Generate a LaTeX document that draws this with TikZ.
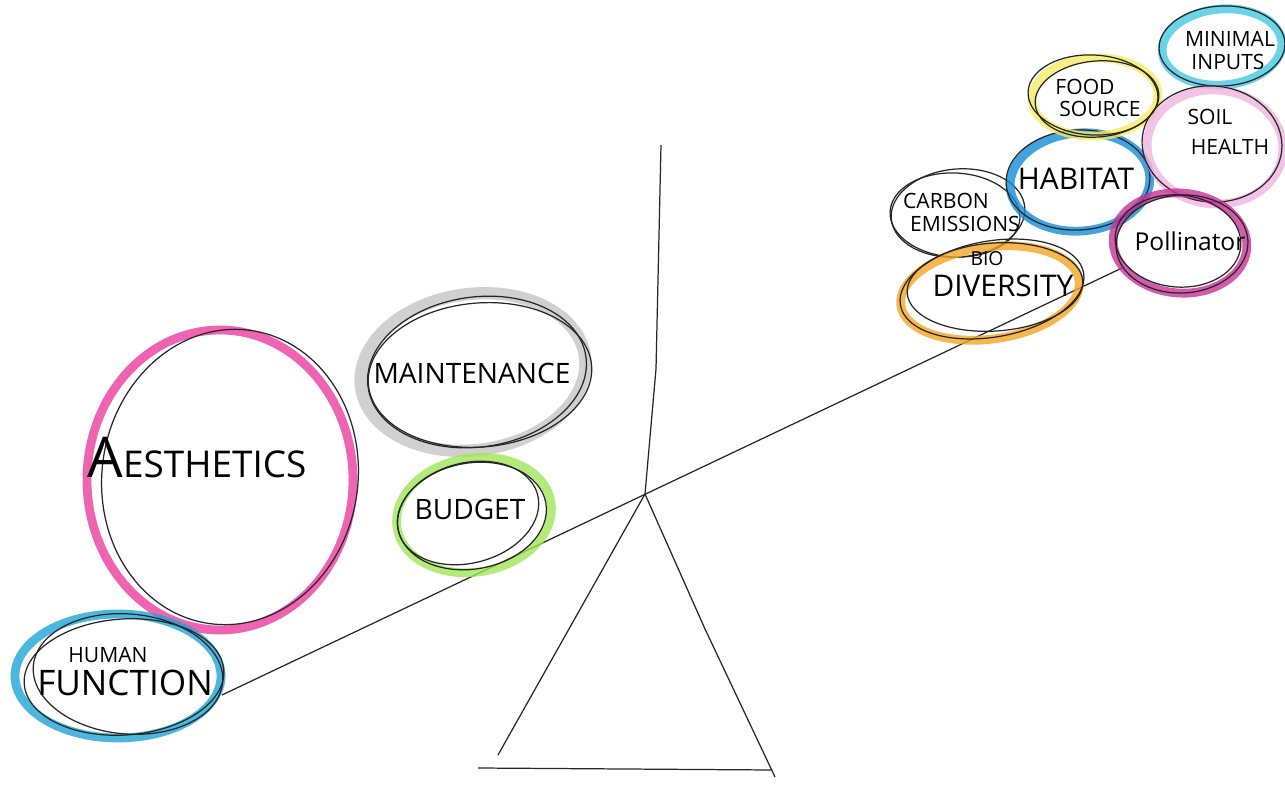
\documentclass[tikz,border=0pt]{standalone}
\usepackage{fontspec}
\setmainfont{Open Sans}
\usepackage{tikz}
\usetikzlibrary{positioning}
\definecolor{aesPink}{RGB}{235,60,160}
\definecolor{humBlue}{RGB}{30,165,215}
\definecolor{budGreen}{RGB}{160,230,90}
\definecolor{bioOrange}{RGB}{245,165,35}
\definecolor{habBlue}{RGB}{20,140,215}
\definecolor{foodYellow}{RGB}{245,235,100}
\definecolor{minCyan}{RGB}{70,200,225}
\definecolor{soilPink}{RGB}{240,180,225}
\definecolor{polMagenta}{RGB}{200,50,150}

\begin{document}
\begin{tikzpicture}[x=0.02cm,y=0.02cm,
  ink/.style={line width=0.7pt,black!85},
  pencil/.style={line width=5pt,opacity=0.8},
  lbl/.style={inner sep=0pt,font=\fontsize{16}{18}\selectfont},
  small/.style={inner sep=0pt,font=\fontsize{12}{14}\selectfont}]
       \useasboundingbox (0,0) rectangle (1285,789);
       \fill[white] (0,0) rectangle (1285,789);
       % scale
       \coordinate (pivot) at (645,295);
       \coordinate (top) at (661,644);
       \coordinate (beamL) at (222,94);
       \coordinate (beamR) at (1122,521);
       \coordinate (footL) at (498,34);
       \coordinate (footR) at (775,12);
       \coordinate (groundL) at (478,21);
       \coordinate (groundR) at (772,19);
       \draw[ink] (top) -- (656,420) -- (pivot);
       \draw[ink] (beamL) -- (beamR);
       \draw[ink] (pivot) -- (footL);
       \draw[ink] (pivot) -- (705,160) -- (footR);
       \draw[ink] (groundL) -- (groundR);
       % left side
       \draw[pencil,aesPink] (220,309) ellipse [x radius=133,y radius=150];
       \draw[ink,shift={(230,312)},rotate=-8] (0,0) ellipse [x radius=128,y radius=148];
       \node[lbl,font=\fontsize{21}{24}\selectfont] (aes) at (197,331) {{\fontsize{32}{32}\selectfont A}ESTHETICS};
       \draw[pencil,humBlue] (118,113) ellipse [x radius=103,y radius=62];
       \draw[ink,shift={(128,115)},rotate=-5] (0,0) ellipse [x radius=95,y radius=60];
       \draw[ink,shift={(124,112)},rotate=4] (0,0) ellipse [x radius=100,y radius=58];
       \node[small] (hum) at (108,134) {HUMAN};
       \node[lbl,font=\fontsize{20}{22}\selectfont] (fun) at (125,106) {FUNCTION};
       \draw[pencil,gray!60,line width=7pt,opacity=0.6,shift={(473,417)},rotate=8] (0,0) ellipse [x radius=113,y radius=78];
       \draw[ink,shift={(477,417)},rotate=8] (0,0) ellipse [x radius=110,y radius=75];
       \draw[ink,shift={(480,414)},rotate=5] (0,0) ellipse [x radius=112,y radius=72];
       \node[lbl] (mai) at (472,416) {MAINTENANCE};
       \draw[pencil,budGreen,shift={(474,274)},rotate=10] (0,0) ellipse [x radius=78,y radius=57];
       \draw[ink,shift={(468,276)},rotate=15] (0,0) ellipse [x radius=72,y radius=50];
       \draw[ink,shift={(472,273)},rotate=10] (0,0) ellipse [x radius=75,y radius=53];
       \node[lbl] (bud) at (470,280) {BUDGET};
       % right side
       \draw[ink,shift={(958,576)},rotate=5] (0,0) ellipse [x radius=67,y radius=44];
       \draw[ink,shift={(955,574)},rotate=-3] (0,0) ellipse [x radius=65,y radius=42];
       \node[small] (car) at (946,588) {CARBON};
       \node[small] (emi) at (965,565) {EMISSIONS};
       \draw[pencil,bioOrange,shift={(990,496)},rotate=8] (0,0) ellipse [x radius=90,y radius=46];
       \draw[ink,shift={(992,500)},rotate=10] (0,0) ellipse [x radius=93,y radius=48];
       \draw[ink,shift={(995,502)},rotate=4] (0,0) ellipse [x radius=88,y radius=44];
       \node[small,font=\fontsize{11}{12}\selectfont] (bio) at (987,530) {BIO};
       \node[lbl,font=\fontsize{17}{18}\selectfont] (div) at (1003,503) {DIVERSITY};
       \draw[pencil,habBlue,shift={(1080,607)},rotate=5] (0,0) ellipse [x radius=70,y radius=49];
       \draw[ink,shift={(1078,609)},rotate=3] (0,0) ellipse [x radius=72,y radius=50];
       \node[lbl,font=\fontsize{17}{18}\selectfont] (hab) at (1076,610) {HABITAT};
       \draw[pencil,foodYellow,shift={(1095,692)},rotate=3] (0,0) ellipse [x radius=63,y radius=39];
       \draw[ink,shift={(1093,694)},rotate=-3] (0,0) ellipse [x radius=65,y radius=40];
       \draw[ink,shift={(1097,690)},rotate=5] (0,0) ellipse [x radius=62,y radius=38];
       \node[small] (foo) at (1085,702) {FOOD};
       \node[small] (sou) at (1100,680) {SOURCE};
       \draw[pencil,minCyan,shift={(1222,742)},rotate=5] (0,0) ellipse [x radius=60,y radius=38];
       \draw[ink,shift={(1222,743)},rotate=3] (0,0) ellipse [x radius=63,y radius=40];
       \node[small] (min) at (1230,750) {MINIMAL};
       \node[small] (inp) at (1228,727) {INPUTS};
       \draw[pencil,soilPink,shift={(1215,642)},rotate=-5] (0,0) ellipse [x radius=68,y radius=57];
       \draw[ink,shift={(1212,645)},rotate=-5] (0,0) ellipse [x radius=70,y radius=58];
       \node[small] (soi) at (1210,672) {SOIL};
       \node[small] (hea) at (1230,642) {HEALTH};
       \draw[pencil,polMagenta,shift={(1180,546)},rotate=-5] (0,0) ellipse [x radius=67,y radius=50];
       \draw[ink,shift={(1178,548)},rotate=-5] (0,0) ellipse [x radius=63,y radius=46];
       \draw[ink,shift={(1182,545)},rotate=3] (0,0) ellipse [x radius=66,y radius=49];
       \node[lbl,font=\fontsize{14}{16}\selectfont] (pol) at (1190,548) {Pollinator};
\end{tikzpicture}
\end{document}
